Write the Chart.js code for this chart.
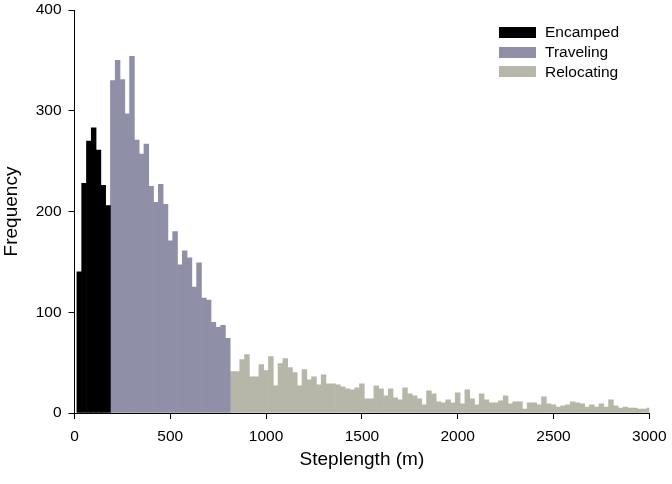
<!DOCTYPE html>
<html>
<head>
<meta charset="utf-8">
<script src="https://cdn.jsdelivr.net/npm/chart.js@4.4.1/dist/chart.umd.min.js"></script>
<style>
    html, body { margin: 0; padding: 0; background: #fff; }
    #wrap { position: relative; width: 672px; height: 484px; }
    #legend { position: absolute; left: 499px; top: 22.6px; font: 15.5px "Liberation Sans", Arial, sans-serif; color: #000; }
    #legend .row { display: flex; align-items: center; height: 19.7px; }
    #legend .box { width: 37px; height: 11px; margin-right: 9px; }
</style>
</head>
<body>
<div id="wrap">
    <canvas id="histChart" width="672" height="484"></canvas>
    <div id="legend"></div>
</div>
<script>
// Histogram of step lengths, 25 m bins
const binWidth = 25;
const seriesNames = ['Encamped', 'Traveling', 'Relocating'];
const seriesColors = ['#000000', '#8f8fa8', '#b6b6a9'];

// first bin index of each series (bin centre = index * binWidth)
const firstBins = [1, 8, 33];

const encamped = [140, 228, 270, 283, 261, 226, 206];
const traveling = [330, 350, 331, 297, 354, 271, 257, 267, 225, 209,
    227, 207, 171, 180, 147, 161, 154, 125, 149, 114,
    112, 90, 85, 87, 74];
const relocating = [41, 41, 53, 58, 36, 36, 48, 42, 56, 27,
    49, 54, 45, 40, 27, 43, 33, 36, 28, 38,
    29, 29, 28, 26, 24, 23, 25, 29, 14, 14,
    27, 24, 17, 24, 15, 13, 25, 19, 17, 14,
    8, 22, 19, 11, 10, 13, 10, 20, 9, 23,
    14, 8, 19, 13, 10, 10, 12, 17, 9, 11,
    11, 4, 10, 10, 8, 16, 9, 8, 6, 7,
    8, 11, 10, 9, 6, 8, 6, 9, 6, 13,
    7, 5, 6, 5, 5, 4, 4, 5];

const xTicks = [0, 500, 1000, 1500, 2000, 2500, 3000];
const yTicks = [0, 100, 200, 300, 400];

const counts = [encamped, traveling, relocating];

function toPoints(values, firstBin) {
    return values.map((v, i) => ({ x: (firstBin + i) * binWidth, y: v }));
}

Chart.defaults.font.family = '"Liberation Sans", Arial, sans-serif';
Chart.defaults.color = '#000';

const chart = new Chart(document.getElementById('histChart'), {
    type: 'bar',
    data: {
        datasets: counts.map((c, k) => ({
            label: seriesNames[k],
            data: toPoints(c, firstBins[k]),
            backgroundColor: seriesColors[k],
            borderWidth: 0,
            barPercentage: 1,
            categoryPercentage: 1,
            grouped: false
        }))
    },
    options: {
        responsive: false,
        animation: false,
        layout: { padding: { top: 10, right: 22.7, left: 0, bottom: 0 } },
        plugins: { legend: { display: false }, tooltip: { enabled: false } },
        scales: {
            x: {
                type: 'linear', min: 0, max: 3000, offset: false,
                afterBuildTicks: s => { s.ticks = xTicks.map(v => ({ value: v })); },
                afterFit: s => { s.height = 71; s.paddingRight = 0; s.paddingLeft = 0; },
                grid: { drawOnChartArea: false, drawTicks: true, tickLength: 6, color: '#000', offset: false },
                border: { color: '#000', width: 1 },
                ticks: { color: '#000', font: { size: 15.5 }, padding: 8, maxRotation: 0, callback: v => String(v) },
                title: { display: true, text: 'Steplength (m)', color: '#000', font: { size: 19 }, padding: { top: 3, bottom: 13 } }
            },
            y: {
                min: 0, max: 400,
                afterBuildTicks: s => { s.ticks = yTicks.map(v => ({ value: v })); },
                afterFit: s => { s.width = 74.5; s.paddingTop = 0; s.paddingBottom = 0; },
                grid: { drawOnChartArea: false, drawTicks: true, tickLength: 6, color: '#000' },
                border: { color: '#000', width: 1 },
                ticks: { color: '#000', font: { size: 15.5 }, padding: 7, callback: v => String(v) },
                title: { display: true, text: 'Frequency', color: '#000', font: { size: 19 }, padding: { top: 0, bottom: 12 } }
            }
        }
    }
});

// legend built from the datasets
const legend = document.getElementById('legend');
chart.data.datasets.forEach(ds => {
    const row = document.createElement('div');
    row.className = 'row';
    const box = document.createElement('span');
    box.className = 'box';
    box.style.background = ds.backgroundColor;
    const txt = document.createElement('span');
    txt.textContent = ds.label;
    row.appendChild(box);
    row.appendChild(txt);
    legend.appendChild(row);
});
</script>
</body>
</html>
